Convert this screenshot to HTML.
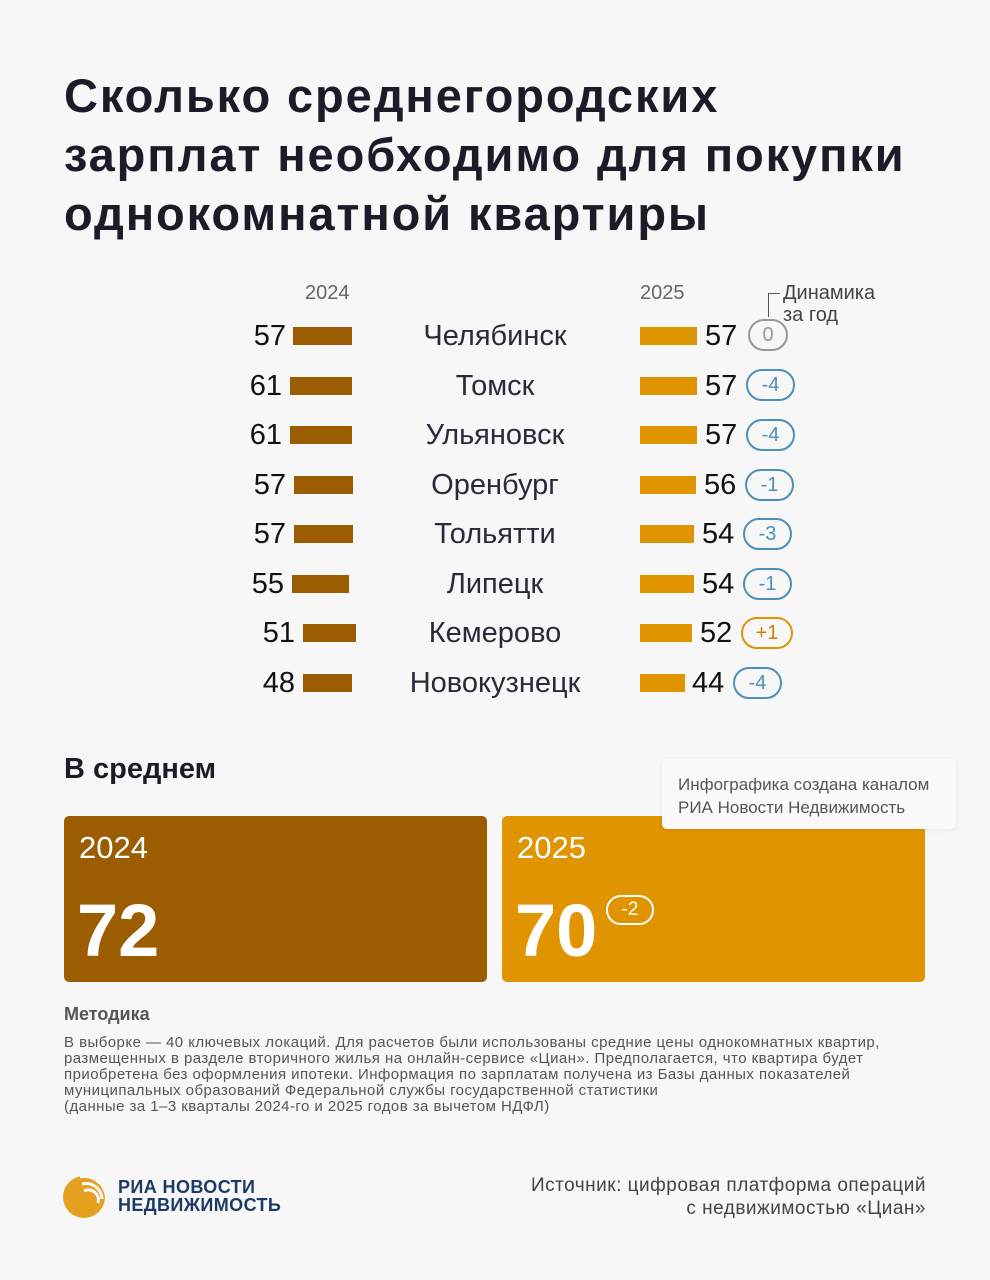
<!DOCTYPE html>
<html><head><meta charset="utf-8"><style>
*{margin:0;padding:0;box-sizing:border-box}
body{width:990px;height:1280px;background:#f7f7f7;font-family:"Liberation Sans",sans-serif;position:relative;overflow:hidden;color:#1c1c28}
.a{position:absolute;white-space:nowrap}
h1{position:absolute;left:64px;top:66px;font-size:47px;line-height:59px;font-weight:bold;color:#1c1c28;letter-spacing:1.9px}
.yr{font-size:20px;color:#666}
.n{font-size:29px;line-height:34px;color:#111}
.c{font-size:29px;line-height:34px;color:#2a2a3a;text-align:center;width:240px;left:375px}
.b24{background:#9c5c00;height:18px}
.b25{background:#e09400;height:18px}
.bd{border:2px solid #4c8fb8;color:#4c8fb8;border-radius:16px;height:32px;font-size:20px;line-height:28px;text-align:center;width:60px}
.box{position:absolute;top:816px;width:423px;height:166px;border-radius:5px;color:#fff}
</style></head><body>
<h1>Сколько среднегородских<br>зарплат необходимо для покупки<br>однокомнатной квартиры</h1>
<div class="a yr" style="left:305px;top:282px">2024</div>
<div class="a yr" style="left:640px;top:282px">2025</div>
<div class="a" style="left:783px;top:282px;font-size:20px;line-height:22px;color:#444">Динамика<br>за год</div>
<div class="a" style="left:768px;top:293px;width:12px;height:24px;border-left:1.5px solid #555;border-top:1.5px solid #555"></div>

<div class="a n" style="right:704px;top:319px">57</div><div class="a b24" style="left:293px;top:327px;width:59px"></div>
<div class="a c" style="top:319px">Челябинск</div>
<div class="a b25" style="left:640px;top:327px;width:57px"></div><div class="a n" style="left:705px;top:319px">57</div>
<div class="a bd" style="left:748px;top:319px;width:40px;border-color:#999;color:#999">0</div>

<div class="a n" style="right:708px;top:369px">61</div><div class="a b24" style="left:290px;top:377px;width:62px"></div>
<div class="a c" style="top:369px">Томск</div>
<div class="a b25" style="left:640px;top:377px;width:57px"></div><div class="a n" style="left:705px;top:369px">57</div>
<div class="a bd" style="left:746px;top:369px;width:49px">-4</div>

<div class="a n" style="right:708px;top:418px">61</div><div class="a b24" style="left:290px;top:426px;width:62px"></div>
<div class="a c" style="top:418px">Ульяновск</div>
<div class="a b25" style="left:640px;top:426px;width:57px"></div><div class="a n" style="left:705px;top:418px">57</div>
<div class="a bd" style="left:746px;top:419px;width:49px">-4</div>

<div class="a n" style="right:704px;top:468px">57</div><div class="a b24" style="left:294px;top:476px;width:59px"></div>
<div class="a c" style="top:468px">Оренбург</div>
<div class="a b25" style="left:640px;top:476px;width:56px"></div><div class="a n" style="left:704px;top:468px">56</div>
<div class="a bd" style="left:745px;top:469px;width:49px">-1</div>

<div class="a n" style="right:704px;top:517px">57</div><div class="a b24" style="left:294px;top:525px;width:59px"></div>
<div class="a c" style="top:517px">Тольятти</div>
<div class="a b25" style="left:640px;top:525px;width:54px"></div><div class="a n" style="left:702px;top:517px">54</div>
<div class="a bd" style="left:743px;top:518px;width:49px">-3</div>

<div class="a n" style="right:706px;top:567px">55</div><div class="a b24" style="left:292px;top:575px;width:57px"></div>
<div class="a c" style="top:567px">Липецк</div>
<div class="a b25" style="left:640px;top:575px;width:54px"></div><div class="a n" style="left:702px;top:567px">54</div>
<div class="a bd" style="left:743px;top:568px;width:49px">-1</div>

<div class="a n" style="right:695px;top:616px">51</div><div class="a b24" style="left:303px;top:624px;width:53px"></div>
<div class="a c" style="top:616px">Кемерово</div>
<div class="a b25" style="left:640px;top:624px;width:52px"></div><div class="a n" style="left:700px;top:616px">52</div>
<div class="a bd" style="left:741px;top:617px;width:52px;border-color:#e09400;color:#c98400">+1</div>

<div class="a n" style="right:695px;top:666px">48</div><div class="a b24" style="left:303px;top:674px;width:49px"></div>
<div class="a c" style="top:666px">Новокузнецк</div>
<div class="a b25" style="left:640px;top:674px;width:45px"></div><div class="a n" style="left:692px;top:666px">44</div>
<div class="a bd" style="left:733px;top:667px;width:49px">-4</div>

<div class="a" style="left:64px;top:753px;font-size:29px;font-weight:bold">В среднем</div>

<div class="box" style="left:64px;background:#9c5c00">
<div class="a" style="left:15px;top:14px;font-size:31px">2024</div>
<div class="a" style="left:13px;top:72px;font-size:74px;font-weight:bold">72</div>
</div>
<div class="box" style="left:502px;background:#e09400">
<div class="a" style="left:15px;top:14px;font-size:31px">2025</div>
<div class="a" style="left:13px;top:72px;font-size:74px;font-weight:bold">70</div>
<div class="a" style="left:104px;top:79px;width:48px;height:30px;border:2px solid #fff;border-radius:15px;text-align:center;font-size:19px;line-height:26px">-2</div>
</div>
<div class="a" style="left:662px;top:759px;width:294px;height:70px;background:#fafafa;border-radius:5px;box-shadow:0 1px 4px rgba(0,0,0,0.08);padding:14px 16px;font-size:17px;line-height:23px;color:#555">Инфографика создана каналом<br>РИА Новости Недвижимость</div>

<div class="a" style="left:64px;top:1004px;font-size:18px;font-weight:bold;color:#555">Методика</div>
<div class="a" style="left:64px;top:1035px;font-size:15px;line-height:16px;color:#555;letter-spacing:0.45px">В выборке — 40 ключевых локаций. Для расчетов были использованы средние цены однокомнатных квартир,<br>размещенных в разделе вторичного жилья на онлайн-сервисе «Циан». Предполагается, что квартира будет<br>приобретена без оформления ипотеки. Информация по зарплатам получена из Базы данных показателей<br>муниципальных образований Федеральной службы государственной статистики<br>(данные за 1–3 кварталы 2024-го и 2025 годов за вычетом НДФЛ)</div>

<svg class="a" style="left:62px;top:1173px" width="46" height="46" viewBox="0 0 46 46">
<circle cx="22" cy="24" r="21" fill="#e6a020"/>
<path d="M18 4 A22 22 0 0 1 44 22" stroke="#f7f7f7" stroke-width="3" fill="none"/>
<path d="M20 11 A16 16 0 0 1 40 26" stroke="#f7f7f7" stroke-width="3" fill="none"/>
<path d="M22 18 A10 10 0 0 1 36 30" stroke="#f7f7f7" stroke-width="3" fill="none"/>
</svg>
<div class="a" style="left:118px;top:1178px;font-size:18px;line-height:18px;font-weight:bold;color:#1d3a66;letter-spacing:0.4px">РИА НОВОСТИ<br>НЕДВИЖИМОСТЬ</div>
<div class="a" style="right:64px;top:1174px;font-size:19px;line-height:23px;color:#444;text-align:right;letter-spacing:0.5px">Источник: цифровая платформа операций<br>с недвижимостью «Циан»</div>
</body></html>
